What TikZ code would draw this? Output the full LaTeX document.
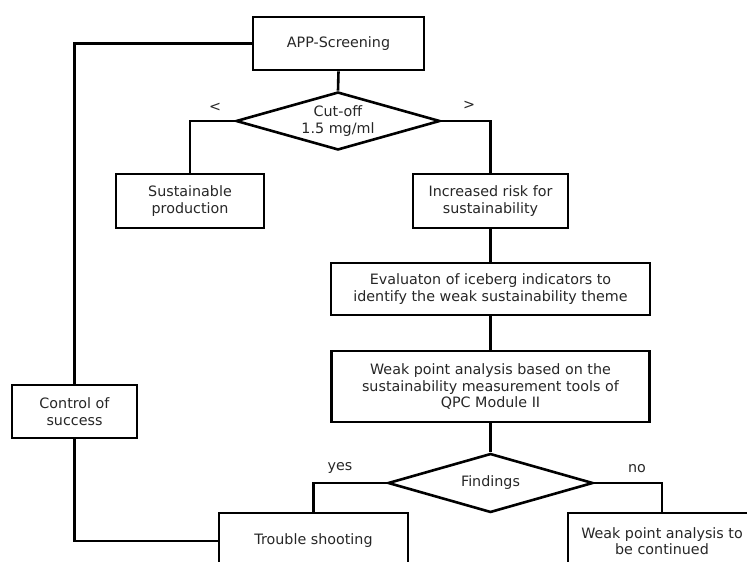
\documentclass[tikz,border=0pt]{standalone}
\usepackage{fontspec}
\setmainfont{DejaVu Sans}
\usetikzlibrary{shapes.geometric}
\definecolor{ink}{HTML}{262626}
\tikzset{
  every node/.style={text=ink, font=\fontsize{14.3}{16.5}\selectfont},
  box/.style={draw=black, line width=2.6pt, rectangle, align=center, inner sep=0pt},
  decision/.style={draw=black, line width=2.6pt, diamond, shape aspect=3.5, align=center, inner sep=0pt},
  link/.style={draw=black, line width=2.6pt},
  tag/.style={inner sep=0pt}
}
\begin{document}
\begin{tikzpicture}[x=1pt, y=-1pt]
\useasboundingbox (0,0) rectangle (747,562);
\clip (0,0) rectangle (747,562);

% process boxes and decisions
\node[box, minimum width=171pt, minimum height=53pt] (app) at (338.5,43.5) {APP-Screening};
\node[decision, minimum width=204pt, minimum height=58pt] (cut) at (338,121) {Cut-off\\1.5 mg/ml};
\node[box, minimum width=148pt, minimum height=54pt] (sust) at (190,201) {Sustainable\\production};
\node[box, minimum width=155pt, minimum height=54pt] (incr) at (490.5,201) {Increased risk for\\sustainability};
\node[box, minimum width=319pt, minimum height=52pt] (eval) at (490.5,289) {Evaluaton of iceberg indicators to\\identify the weak sustainability theme};
\node[box, minimum width=318pt, minimum height=71pt] (weak) at (490.5,386.5) {Weak point analysis based on the\\sustainability measurement tools of\\QPC Module II};
\node[decision, minimum width=205pt, minimum height=59pt] (find) at (490.5,483) {Findings};
\node[box, minimum width=189pt, minimum height=56pt] (trouble) at (313.5,541) {Trouble shooting};
\node[box, minimum width=188pt, minimum height=56pt] (cont) at (662,541) {Weak point analysis to\\be continued};
\node[box, minimum width=125pt, minimum height=53pt] (ctrl) at (74.5,411.5) {Control of\\success};

% branch labels
\node[tag] (lt) at (215,107) {<};
\node[tag] (gt) at (469,105) {>};
\node[tag] (yes) at (340,468) {yes};
\node[tag] (no) at (637,469) {no};

% connectors
\draw[link] (app.south) -- (cut.north);
\draw[link] (cut.west) -| (sust.north);
\draw[link] (cut.east) -| (incr.north);
\draw[link] (incr.south) -- (eval.north);
\draw[link] (eval.south) -- (weak.north);
\draw[link] (weak.south) -- (find.north);
\draw[link] (find.west) -| (trouble.north);
\draw[link] (find.east) -| (cont.north);
\draw[link] (app.west) -| (ctrl.north);
\draw[link] (ctrl.south) |- (trouble.west);
\end{tikzpicture}
\end{document}
